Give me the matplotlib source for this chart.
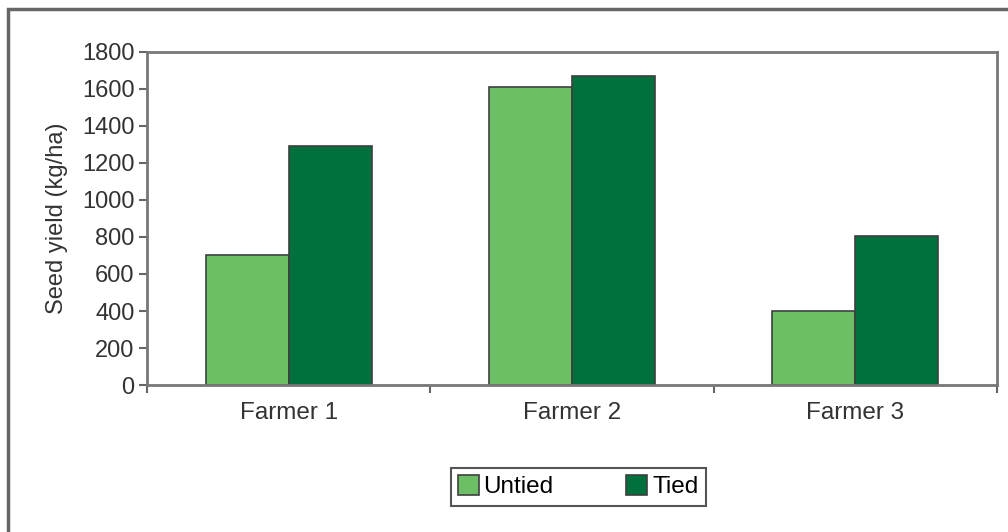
import matplotlib
matplotlib.use('Agg')
import matplotlib.pyplot as plt
from matplotlib.patches import Rectangle
import numpy as np

# Values
farmers = ['Farmer 1', 'Farmer 2', 'Farmer 3']
untied = [700, 1610, 400]
tied = [1290, 1670, 805]

plt.rcParams['font.family'] = ['Liberation Sans', 'DejaVu Sans']

fig = plt.figure(figsize=(10.08, 5.32), dpi=100)
ax = fig.add_axes([0.1458, 0.2763, 0.8433, 0.626])

x = np.arange(len(farmers))
w = 0.293
ax.bar(x - w / 2, untied, w, color='#6dbf65', edgecolor='#3f3f3f', linewidth=1.2, label='Untied')
ax.bar(x + w / 2, tied, w, color='#00703c', edgecolor='#3f3f3f', linewidth=1.2, label='Tied')

ax.set_xlim(-0.5, 2.5)
ax.set_ylim(0, 1800)
ax.set_yticks(range(0, 1801, 200))
ax.set_xticks(x)
ax.set_xticklabels(farmers)
ax.set_xticks([-0.5, 0.5, 1.5, 2.5], minor=True)
ax.tick_params(axis='x', which='major', length=0, pad=12, labelsize=17.5, labelcolor='#333333')
ax.tick_params(axis='x', which='minor', length=6, width=1.5, color='#666666')
ax.tick_params(axis='y', length=6, width=1.5, color='#666666', labelsize=17, labelcolor='#333333', pad=3)
for s in ax.spines.values():
    s.set_color('#777777')
    s.set_linewidth(2)

ax.set_ylabel('Seed yield (kg/ha)', fontsize=17, color='#333333', labelpad=10)

fig.legend(loc='center', bbox_to_anchor=(0.5735, 0.085), ncol=2, fontsize=17.5,
           frameon=True, fancybox=False, edgecolor='#555555', framealpha=1,
           handlelength=0.85, handleheight=0.85, handletextpad=0.2, columnspacing=3.0,
           borderpad=0.3)
fig.legends[0].get_frame().set_linewidth(1.5)

# outer border of the figure (cut at right and bottom)
fig.patches.append(Rectangle((0.0075, -0.05), 1.1, 1.0331, transform=fig.transFigure,
                             fill=False, edgecolor='#666666', linewidth=2.5))

fig.savefig('out.png', dpi=100)
